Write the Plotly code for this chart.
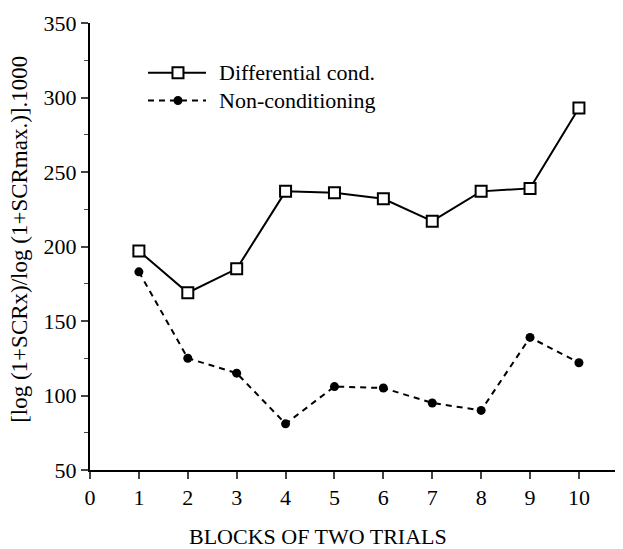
import plotly.graph_objects as go

blocks = [1, 2, 3, 4, 5, 6, 7, 8, 9, 10]
differential = [197, 169, 185, 237, 236, 232, 217, 237, 239, 293]
non_conditioning = [183, 125, 115, 81, 106, 105, 95, 90, 139, 122]
x_ticks = [0, 1, 2, 3, 4, 5, 6, 7, 8, 9, 10]
y_ticks = [50, 100, 150, 200, 250, 300, 350]
series_names = ["Differential cond.", "Non-conditioning"]

FONT = "Liberation Serif"
FS = 22
DASH = "6px,5px"

fig = go.Figure()
fig.add_trace(go.Scatter(
    x=blocks, y=differential, mode="lines+markers", name=series_names[0],
    line=dict(color="black", width=2),
    marker=dict(symbol="square", size=11, color="white", line=dict(color="black", width=2)),
))
fig.add_trace(go.Scatter(
    x=blocks, y=non_conditioning, mode="lines+markers", name=series_names[1],
    line=dict(color="black", width=2, dash=DASH),
    marker=dict(symbol="circle", size=9, color="black"),
))

# custom legend (paper coordinates)
leg_x0, leg_x1, leg_xm, leg_tx = 0.1094, 0.2189, 0.1660, 0.2396
leg_rows = [0.8889, 0.8267]
shapes = []
annotations = []
for i, yy in enumerate(leg_rows):
    shapes.append(dict(type="line", xref="paper", yref="paper",
                       x0=leg_x0, x1=leg_x1, y0=yy, y1=yy,
                       line=dict(color="black", width=2, dash="solid" if i == 0 else DASH)))
    annotations.append(dict(text=series_names[i], xref="paper", yref="paper",
                            x=leg_tx, y=yy, xanchor="left", yanchor="middle",
                            showarrow=False, font=dict(size=FS, family=FONT, color="black")))
shapes.append(dict(type="rect", xref="paper", yref="paper", xsizemode="pixel", ysizemode="pixel",
                   xanchor=leg_xm, yanchor=leg_rows[0], x0=-5.5, x1=5.5, y0=-5.5, y1=5.5,
                   fillcolor="white", line=dict(color="black", width=2)))
shapes.append(dict(type="circle", xref="paper", yref="paper", xsizemode="pixel", ysizemode="pixel",
                   xanchor=leg_xm, yanchor=leg_rows[1], x0=-4.5, x1=4.5, y0=-4.5, y1=4.5,
                   fillcolor="black", line=dict(color="black", width=0)))

annotations.append(dict(text="BLOCKS OF TWO TRIALS", xref="paper", yref="paper",
                        x=0.430, y=-0.1489, xanchor="center", yanchor="middle",
                        showarrow=False, font=dict(size=FS, family=FONT, color="black")))
annotations.append(dict(text="[log (1+SCRx)/log (1+SCRmax.)].1000", xref="paper", yref="paper",
                        x=-0.132, y=0.515, xanchor="center", yanchor="middle", textangle=-90,
                        showarrow=False, font=dict(size=23, family=FONT, color="black")))

# page body adds an 8px margin, so the figure is 8px smaller and margins compensate
fig.update_layout(
    width=615, height=541,
    margin=dict(l=82, r=3, t=12, b=79),
    paper_bgcolor="white", plot_bgcolor="white",
    font=dict(family=FONT, size=FS, color="black"),
    showlegend=False,
    shapes=shapes,
    annotations=annotations,
    xaxis=dict(
        range=[0, 10.84], tickvals=x_ticks, ticks="outside", ticklen=7, tickwidth=1.5,
        showline=True, linecolor="black", linewidth=2, showgrid=False, zeroline=False,
        tickfont=dict(size=FS), ticklabeloverflow="allow",
    ),
    yaxis=dict(
        range=[50, 350], tickvals=y_ticks, ticks="outside", ticklen=7, tickwidth=1.5,
        showline=True, linecolor="black", linewidth=2, showgrid=False, zeroline=False,
        minor=dict(dtick=25, tick0=0, ticks="outside", ticklen=4, tickwidth=1, showgrid=False),
        tickfont=dict(size=FS), ticklabeloverflow="allow",
    ),
)

fig.write_html("out.html")
